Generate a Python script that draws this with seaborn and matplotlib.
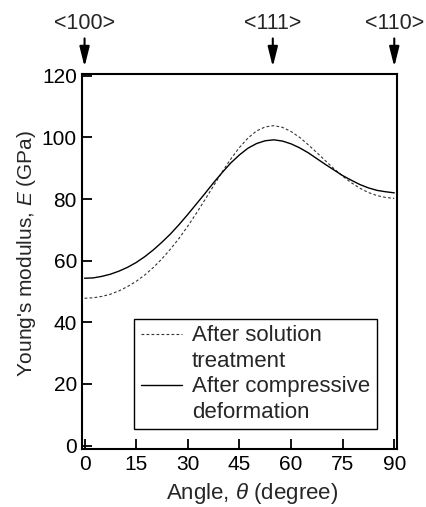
import numpy as np
import pandas as pd
import matplotlib
matplotlib.use('Agg')
import matplotlib.pyplot as plt
import seaborn as sns
from matplotlib.lines import Line2D

# angle (degree) and Young's modulus (GPa)
angle = [0, 2.5, 5, 7.5, 10, 12.5, 15, 17.5, 20, 22.5, 25, 27.5, 30, 32.5, 35,
         37.5, 40, 42.5, 45, 47.5, 50, 52.5, 55, 57.5, 60, 62.5, 65, 67.5, 70,
         72.5, 75, 77.5, 80, 82.5, 85, 87.5, 90]
e_solution = [47.8, 47.95, 48.4, 49.1, 50.2, 51.6, 53.3, 55.35, 57.8, 60.6,
              63.8, 67.3, 71.2, 75.4, 79.8, 84.3, 88.8, 93.0, 96.7, 99.8,
              102.1, 103.4, 103.8, 103.25, 101.9, 100.0, 97.6, 95.05, 92.4,
              89.8, 87.4, 85.3, 83.5, 82.1, 81.1, 80.5, 80.2]
e_compress = [54.3, 54.4, 54.9, 55.6, 56.6, 57.85, 59.4, 61.3, 63.5, 66.0,
              68.7, 71.75, 75.0, 78.4, 81.8, 85.3, 88.6, 91.7, 94.3, 96.5,
              98.0, 98.9, 99.2, 98.8, 97.9, 96.6, 95.0, 93.1, 91.2, 89.4,
              87.6, 86.1, 84.7, 83.6, 82.8, 82.35, 82.0]

labels = ['After solution', 'treatment', 'After compressive', 'deformation']
dir_names = ['<100>', '<111>', '<110>']
dir_angles = [0, 54.7, 90]
xticks = [0, 15, 30, 45, 60, 75, 90]
yticks = [0, 20, 40, 60, 80, 100, 120]

sns.set_style('ticks')
plt.rcParams['font.family'] = ['Liberation Sans', 'DejaVu Sans']
plt.rcParams['mathtext.fontset'] = 'custom'
plt.rcParams['mathtext.rm'] = 'Liberation Sans'
plt.rcParams['mathtext.it'] = 'Liberation Sans:italic'

df = pd.DataFrame({'angle': angle, 'sol': e_solution, 'comp': e_compress})

fig = plt.figure(figsize=(4.27, 5.07), dpi=100)
ax = fig.add_axes([0.1932, 0.1138, 0.7358, 0.7396])

dash = (0, (2.5, 2))
sns.lineplot(data=df, x='angle', y='sol', ax=ax, color='#333333', lw=0.8,
             linestyle=dash)
sns.lineplot(data=df, x='angle', y='comp', ax=ax, color='black', lw=1.0)

ax.set_xlim(-0.6, 90.7)
ax.set_ylim(-1.2, 120.45)
ax.set_xticks(xticks)
ax.set_yticks(yticks)
ax.tick_params(direction='in', length=7, width=1.3, labelsize=15, pad=4,
               colors='black')
for s in ax.spines.values():
    s.set_linewidth(1.5)
    s.set_color('black')

ax.set_xlabel(r'Angle, $\theta$ (degree)', fontsize=16)
ax.set_ylabel(r"Young's modulus, $E$ (GPa)", fontsize=15)
ax.xaxis.set_label_coords(0.541, -0.084)
ax.yaxis.set_label_coords(-0.142, 0.523)

# crystal direction markers above the frame
for name, a in zip(dir_names, dir_angles):
    ax.annotate('', xy=(a, 122.9), xytext=(a, 132.1),
                arrowprops=dict(arrowstyle='-|>,head_length=0.8,head_width=0.2',
                                color='black', lw=1.5, mutation_scale=15,
                                shrinkA=0, shrinkB=0),
                annotation_clip=False)
    ax.text(a, 137.0, name, ha='center', va='center', fontsize=15.5,
            clip_on=False)

blank = Line2D([], [], color='none')
handles = [Line2D([], [], color='#333333', lw=0.8, linestyle=dash), blank,
           Line2D([], [], color='black', lw=1.0), blank]
leg = ax.legend(handles, labels, loc='lower right',
                bbox_to_anchor=(0.936, 0.053), fontsize=16, frameon=True,
                fancybox=False, edgecolor='black', framealpha=1,
                handlelength=1.85, handletextpad=0.45, labelspacing=0.2,
                borderpad=0.3, borderaxespad=0)
leg.get_frame().set_linewidth(1.0)

fig.savefig('out.png', dpi=100)
